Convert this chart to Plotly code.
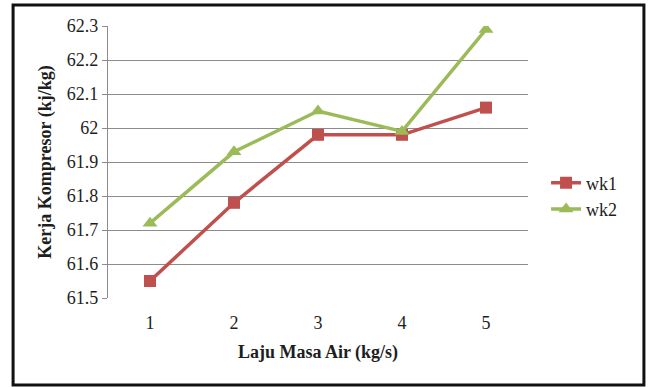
import plotly.graph_objects as go

laju = [1, 2, 3, 4, 5]
wk1 = [61.55, 61.78, 61.98, 61.98, 62.06]
wk2 = [61.72, 61.93, 62.05, 61.99, 62.29]
y_ticks = [61.5, 61.6, 61.7, 61.8, 61.9, 62.0, 62.1, 62.2, 62.3]
y_labels = ["61.5", "61.6", "61.7", "61.8", "61.9", "62", "62.1", "62.2", "62.3"]
x_labels = ["1", "2", "3", "4", "5"]

serif = "Liberation Serif"
ink = "#1e1e1e"

fig = go.Figure()
fig.add_trace(go.Scatter(
    x=laju, y=wk1, name="wk1", mode="lines+markers",
    line=dict(color="#C0504D", width=3.5),
    marker=dict(symbol="square", size=12, color="#C0504D"),
))
fig.add_trace(go.Scatter(
    x=laju, y=wk2, name="wk2", mode="lines+markers",
    line=dict(color="#9BBB59", width=3.5),
    marker=dict(symbol="triangle-up", size=13, color="#9BBB59"),
))

fig.update_layout(
    width=649, height=387,
    margin=dict(l=108, r=121, t=26, b=89),
    paper_bgcolor="white", plot_bgcolor="white",
    font=dict(family=serif, size=18, color=ink),
    showlegend=True,
    legend=dict(x=1.043, y=0.375, xanchor="left", yanchor="middle",
                font=dict(family=serif, size=18, color=ink),
                bgcolor="rgba(0,0,0,0)", tracegroupgap=4),
    xaxis=dict(
        range=[0.5, 5.5], tickvals=laju, ticktext=x_labels,
        showgrid=False, zeroline=False, showline=False, ticks="",
        ticklabelstandoff=12,
        tickfont=dict(family=serif, size=18, color=ink),
        title=dict(text="<b>Laju Masa Air (kg/s)</b>", standoff=13,
                   font=dict(family=serif, size=18, color=ink)),
    ),
    yaxis=dict(
        range=[61.5, 62.3], tickvals=y_ticks, ticktext=y_labels,
        showgrid=True, gridcolor="#8C8C8C", gridwidth=1.3,
        zeroline=False, showline=True, linecolor="#8C8C8C", linewidth=1.3,
        ticks="outside", ticklen=5, tickcolor="#8C8C8C",
        tickfont=dict(family=serif, size=18, color=ink),
        title=dict(text="<b>Kerja Kompresor (kj/kg)</b>", standoff=10,
                   font=dict(family=serif, size=18, color=ink)),
    ),
)

fig.add_shape(type="rect", xref="paper", yref="paper",
              x0=-0.226, x1=1.276, y0=-0.320, y1=1.077,
              line=dict(color="#111111", width=3), layer="below")

fig.write_html("out.html")
